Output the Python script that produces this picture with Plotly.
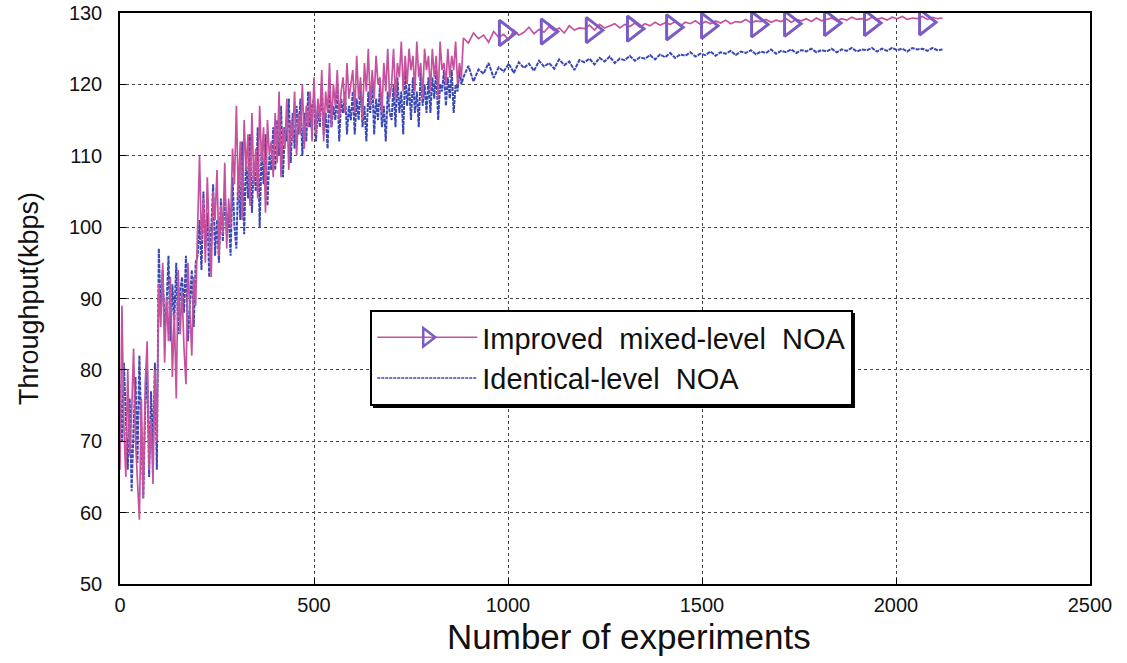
import plotly.graph_objects as go

# ---------------- data ----------------
# early phase: x = 0..880 step 5 ; late phase: x = 885..2120 step 13
x_early = list(range(0, 881, 5))
x_late = list(range(885, 2121, 13))

pink_early = [
    66, 89, 72, 65, 80, 68, 74, 83, 70, 64, 59, 76, 62, 78, 84, 66, 73, 64, 80, 70,
    92, 86, 95, 81, 90, 84, 93, 79, 88, 76, 94, 85, 91, 83, 78, 95, 87, 82, 93, 89,
    100, 110, 98, 104, 95, 107, 99, 93, 105, 101, 108, 96, 103, 99, 109, 97, 104, 100, 111, 106,
    117, 104, 112, 101, 115, 108, 113, 103, 116, 106, 111, 104, 117, 109, 114, 102, 115, 110, 112, 107,
    116, 109, 119, 107, 114, 111, 118, 108, 115, 112, 119, 110, 116, 113, 120, 111, 117, 114, 119, 112,
    121, 113, 118, 115, 122, 112, 119, 116, 123, 114, 120, 117, 122, 115, 119, 121, 116, 123, 118, 120,
    122, 116, 124, 118, 121, 115, 123, 119, 125, 117, 122, 118, 124, 120, 121, 116, 123, 119, 125, 118,
    120, 125, 118, 123, 121, 126, 119, 124, 120, 125, 122, 124, 119, 126, 121, 123, 118, 125, 122, 124,
    119, 125, 121, 124, 118, 126, 122, 123, 120, 125, 121, 124, 122, 126, 120, 123, 121,
]
pink_late = [
    126.5, 125.8, 127.2, 126.4, 126.9, 125.9, 127.4, 126.6, 127.0, 126.2, 127.6, 126.9,
    127.3, 128.0, 127.1, 127.7, 127.3, 128.1, 127.5, 127.9, 127.2, 128.2, 127.6, 127.9,
    127.8, 128.3, 127.6, 128.4, 127.9, 128.2, 128.5, 127.9, 128.4, 128.1, 128.6, 128.0,
    128.5, 128.2, 128.7, 128.3, 128.6, 128.4, 128.8, 128.2, 128.7, 128.5, 128.9, 128.4,
    128.8, 128.5, 128.9, 128.6, 129.0, 128.5, 128.8, 128.7, 129.1, 128.6, 128.9, 128.8,
    129.1, 128.7, 129.0, 128.8, 129.2, 128.7, 129.1, 128.9, 129.2, 128.8, 129.3, 128.9,
    129.1, 129.3, 128.9, 129.2, 129.0, 129.4, 129.1, 129.2, 129.0, 129.4, 129.1, 129.3,
    129.0, 129.4, 129.2, 129.5, 129.1, 129.3, 129.2, 129.5, 129.1, 129.4, 129.2, 129.3,
]
blue_early = [
    78, 70, 81, 74, 66, 76, 63, 72, 79, 67, 82, 71, 62, 75, 80, 65, 77, 69, 81, 66,
    97, 88, 94, 86, 89, 96, 84, 92, 87, 95, 85, 91, 93, 88, 96, 84, 90, 94, 86, 95,
    96, 101, 94, 105, 97, 102, 93, 99, 106, 96, 101, 95, 104, 98, 105, 99, 102, 96, 107, 100,
    97, 108, 101, 112, 99, 110, 104, 113, 102, 109, 105, 114, 100, 111, 106, 113, 103, 110, 108, 114,
    108, 115, 110, 117, 107, 114, 112, 118, 109, 116, 111, 117, 113, 118, 110, 116, 112, 119, 114, 117,
    118, 112, 117, 114, 120, 113, 116, 111, 119, 114, 117, 115, 120, 112, 118, 116, 119, 113, 117, 115,
    119, 113, 118, 115, 120, 114, 117, 112, 119, 116, 121, 113, 118, 115, 120, 114, 117, 112, 119, 116,
    115, 120, 114, 121, 116, 119, 113, 122, 117, 120, 115, 121, 116, 119, 114, 122, 117, 120, 116, 121,
    116, 121, 118, 122, 115, 120, 119, 122, 117, 121, 118, 122, 116, 120, 119, 122, 120,
]
blue_late = [
    121.0, 122.6, 120.4, 122.1, 121.5, 123.0, 120.9, 122.4, 121.8, 122.9, 121.6, 123.1,
    122.3, 122.9, 121.9, 123.3, 122.5, 123.0, 122.2, 123.5, 122.7, 123.2, 122.0, 123.4,
    123.1, 123.6, 122.8, 123.7, 123.2, 123.9, 123.0, 123.6, 123.4, 124.0, 123.3, 123.8,
    123.6, 124.1, 123.5, 124.2, 123.8, 124.4, 123.7, 124.2, 124.0, 124.5, 123.9, 124.3,
    124.1, 124.6, 124.0, 124.5, 124.3, 124.7, 124.1, 124.6, 124.4, 124.8, 124.2, 124.6,
    124.4, 124.9, 124.3, 124.7, 124.5, 124.9, 124.4, 124.8, 124.6, 125.0, 124.5, 124.8,
    124.6, 125.0, 124.5, 124.9, 124.7, 125.1, 124.6, 124.9, 124.8, 125.1, 124.6, 125.0,
    124.7, 125.1, 124.8, 125.0, 124.6, 125.1, 124.9, 125.0, 124.7, 125.1, 124.8, 124.9,
]
marker_x = [992, 1100, 1216, 1322, 1423, 1513, 1642, 1727, 1830, 1933, 2075]
marker_y = [127.2, 127.4, 127.6, 127.8, 128.0, 128.2, 128.4, 128.5, 128.6, 128.6, 128.7]

x_vals = x_early + x_late
pink = pink_early + pink_late
blue = blue_early + blue_late

x_ticks = [0, 500, 1000, 1500, 2000, 2500]
y_ticks = [50, 60, 70, 80, 90, 100, 110, 120, 130]

PINK = "#c6529e"
BLUE = "#3b48b2"
MARK = "#7b5cc4"
FONT = "Liberation Sans, Arial"

fig = go.Figure()
fig.add_trace(go.Scatter(x=x_vals, y=blue, mode="lines", showlegend=False,
                         line=dict(color=BLUE, width=2.0, dash="4px,1px")))
fig.add_trace(go.Scatter(x=x_vals, y=pink, mode="lines", showlegend=False,
                         line=dict(color=PINK, width=1.7)))
fig.add_trace(go.Scatter(x=marker_x, y=marker_y, mode="markers", showlegend=False,
                         marker=dict(symbol="triangle-right-open", size=22,
                                     color=MARK, line=dict(color=MARK, width=3))))
# legend entries
fig.add_trace(go.Scatter(x=[None], y=[None], mode="lines+markers",
                         name="Improved  mixed-level  NOA",
                         line=dict(color=PINK, width=1.5),
                         marker=dict(symbol="triangle-right-open", size=16,
                                     color=MARK, line=dict(color=MARK, width=2.5))))
fig.add_trace(go.Scatter(x=[None], y=[None], mode="lines",
                         name="Identical-level  NOA",
                         line=dict(color=BLUE, width=1.5, dash="3px,1px")))

axis_common = dict(showline=True, mirror=True, linecolor="black", linewidth=1.5,
                   showgrid=True, gridcolor="#444444", griddash="dot", gridwidth=1,
                   ticks="inside", ticklen=6, tickcolor="black", zeroline=False,
                   automargin=False)

fig.update_xaxes(range=[0, 2500], tickvals=x_ticks,
                 tickfont=dict(family=FONT, size=20, color="#111"),
                 ticklabelstandoff=2,
                 **axis_common)
fig.update_yaxes(range=[50, 130], tickvals=y_ticks,
                 tickfont=dict(family=FONT, size=20, color="#111"),
                 title=dict(text="Throughput(kbps)",
                            font=dict(family=FONT, size=27, color="#111"),
                            standoff=22),
                 ticklabelstandoff=12,
                 **axis_common)

fig.add_annotation(text="Number of experiments", xref="paper", yref="paper",
                   x=0.525, y=-0.055, xanchor="center", yanchor="top", showarrow=False,
                   font=dict(family=FONT, size=35, color="#111"))

# drop shadow behind the legend box
fig.add_shape(type="rect", xref="paper", yref="paper",
              x0=0.2608, x1=0.7577, y0=0.3082, y1=0.4746,
              fillcolor="black", line=dict(width=0), layer="above")

fig.update_layout(
    width=1127, height=663,
    margin=dict(l=120, r=37, t=13, b=79),
    paper_bgcolor="white", plot_bgcolor="white",
    legend=dict(x=0.258, y=0.48, xanchor="left", yanchor="top",
                bgcolor="white", bordercolor="black", borderwidth=2,
                font=dict(family=FONT, size=29, color="#111"),
                tracegroupgap=0, itemwidth=100),
)

fig.write_html("out.html")
